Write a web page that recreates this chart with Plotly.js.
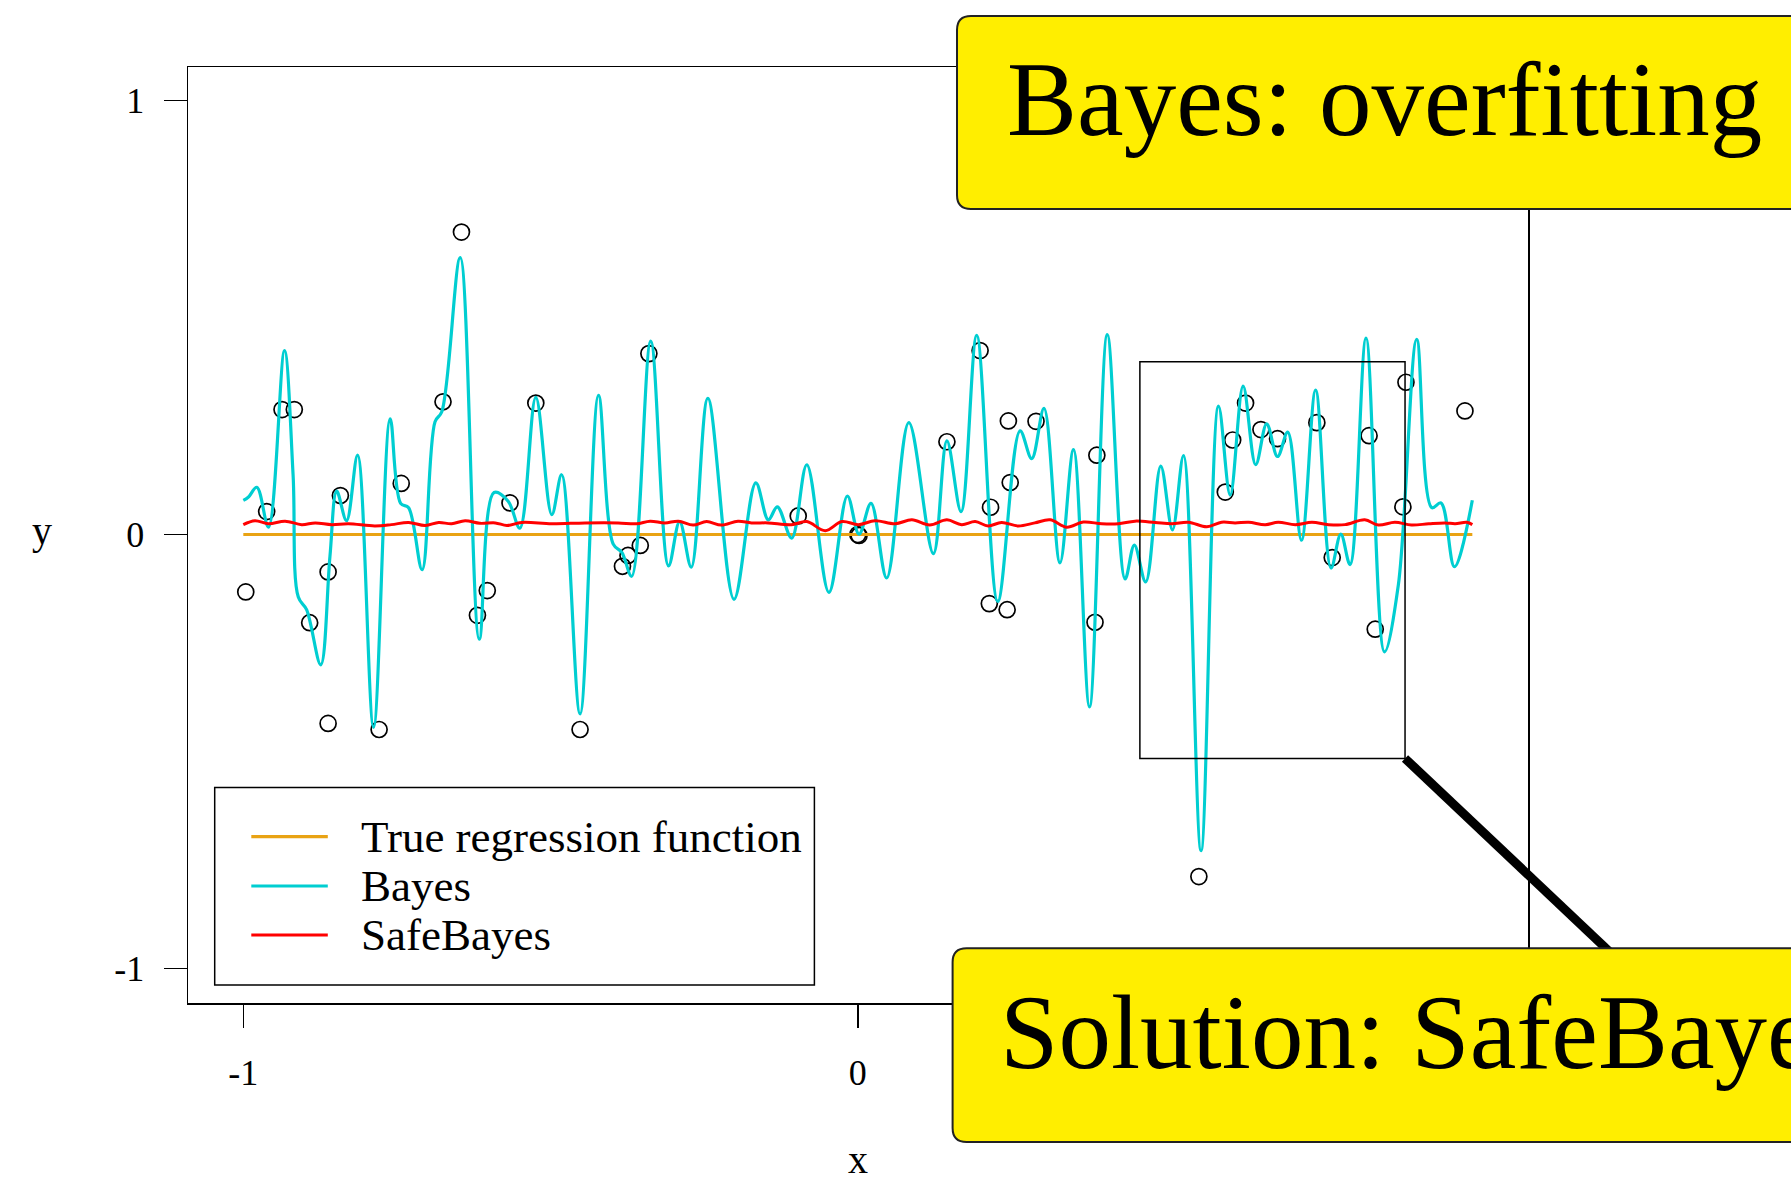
<!DOCTYPE html>
<html>
<head>
<meta charset="utf-8">
<script src="https://cdn.plot.ly/plotly-3.0.1.min.js"></script>
<style>html,body{margin:0;padding:0;background:#fff;}#chart{width:1791px;height:1182px;}</style>
</head>
<body>
<div id="chart"></div>
<script>
// ---- data ----
const pointsX = [-0.996,-0.962,-0.937,-0.917,-0.892,-0.862,-0.862,-0.842,-0.779,-0.743,-0.675,-0.645,-0.619,-0.603,-0.566,-0.524,-0.452,-0.383,-0.374,-0.354,-0.340,-0.097,0.000,0.002,0.145,0.199,0.216,0.214,0.243,0.245,0.248,0.290,0.386,0.389,0.555,0.598,0.610,0.631,0.656,0.683,0.747,0.772,0.832,0.842,0.887,0.892,0.988];
const pointsY = [-0.132,0.053,0.288,0.288,-0.203,-0.086,-0.435,0.090,-0.449,0.118,0.306,0.697,-0.186,-0.129,0.073,0.303,-0.449,-0.073,-0.048,-0.025,0.417,0.043,0.000,-0.002,0.214,0.424,0.063,-0.159,-0.173,0.262,0.120,0.261,-0.202,0.183,-0.788,0.098,0.218,0.303,0.242,0.221,0.258,-0.053,0.228,-0.218,0.064,0.351,0.285];

const trueX = [-1, 1];
const trueY = [0, 0];

const bayesX = [-1.000,-0.992,-0.978,-0.959,-0.933,-0.919,-0.9105,-0.897,-0.874,-0.859,
  -0.848,-0.832,-0.814,-0.788,-0.761,-0.744,-0.731,-0.709,-0.688,-0.677,
  -0.647,-0.616,-0.592,-0.569,-0.550,-0.524,-0.498,-0.482,-0.452,-0.422,
  -0.398,-0.384,-0.368,-0.337,-0.308,-0.290,-0.271,-0.244,-0.2015,-0.166,
  -0.1456,-0.131,-0.1076,-0.083,-0.047,-0.017,0.002,0.0215,0.047,0.083,
  0.123,0.145,0.168,0.1935,0.2277,0.264,0.283,0.303,0.329,0.351,
  0.377,0.406,0.435,0.450,0.4685,0.493,0.512,0.530,0.5585,0.587,
  0.606,0.627,0.6475,0.6654,0.683,0.6996,0.722,0.745,0.770,0.786,
  0.801,0.827,0.857,0.8796,0.9095,0.934,0.949,0.971,1.000];
const bayesY = [0.079,0.086,0.109,0.017,0.424,0.138,-0.144,-0.173,-0.300,-0.050,
  0.100,0.032,0.183,-0.444,0.267,0.072,0.062,-0.081,0.260,0.283,
  0.638,-0.241,0.097,0.077,0.015,0.316,0.046,0.138,-0.413,0.321,
  -0.022,-0.041,-0.096,0.446,-0.072,0.030,-0.075,0.314,-0.149,0.119,
  0.034,0.064,-0.008,0.161,-0.133,0.089,0.001,0.072,-0.100,0.258,
  -0.044,0.216,0.053,0.459,-0.154,0.239,0.175,0.291,-0.065,0.196,
  -0.397,0.461,-0.102,-0.024,-0.109,0.158,0.011,0.182,-0.728,0.296,
  0.091,0.342,0.161,0.255,0.180,0.236,-0.013,0.333,-0.077,0.001,
  -0.069,0.4525,-0.270,-0.116,0.450,0.062,0.073,-0.074,0.079];

const safeX = [-1.000,-0.981,-0.959,-0.932,-0.905,-0.883,-0.856,-0.829,-0.786,-0.759,-0.731,-0.704,-0.682,-0.661,-0.639,-0.615,
  -0.590,-0.571,-0.547,-0.498,-0.444,-0.390,-0.360,-0.338,-0.314,-0.292,-0.268,-0.246,-0.222,-0.195,
  -0.173,-0.146,-0.108,-0.083,-0.053,-0.026,0.001,0.028,0.061,0.088,0.117,0.145,0.169,0.191,0.212,
  0.234,0.261,0.288,0.313,0.340,0.367,0.397,0.424,0.451,0.484,0.511,0.538,0.568,0.592,
  0.614,0.636,0.663,0.684,0.712,0.739,0.766,0.793,0.825,0.847,0.874,0.901,0.929,0.956,0.972,0.991,1.000];
const safeY = [0.023,0.032,0.025,0.031,0.023,0.027,0.023,0.025,0.020,0.023,0.028,0.021,0.028,0.025,0.032,0.026,
  0.027,0.021,0.028,0.025,0.027,0.027,0.025,0.031,0.027,0.031,0.022,0.030,0.022,0.031,
  0.027,0.027,0.023,0.030,0.009,0.030,0.023,0.032,0.025,0.034,0.022,0.034,0.023,0.030,0.020,
  0.028,0.020,0.027,0.034,0.017,0.029,0.025,0.025,0.031,0.028,0.025,0.0285,0.018,0.0285,
  0.027,0.0285,0.023,0.0285,0.023,0.0285,0.023,0.023,0.034,0.022,0.0285,0.022,0.025,0.027,0.025,0.0285,0.023];

const xTickVals = [-1, 0, 1];
const xTickText = ['-1', '0', ''];   // the "1" label lies hidden under the lower callout in the reference
const yTickVals = [-1, 0, 1];
const yTickText = ['-1', '0', '1'];
const legendLabels = ['True regression function', 'Bayes', 'SafeBayes'];
const calloutTop = 'Bayes: overfitting';
const calloutBottom = 'Solution: SafeBayes';
const zoomBox = {x0: 0.459, x1: 0.8905, y0: -0.516, y1: 0.398};

// ---- styling / layout ----
const W = 1791, Hh = 1182;
const mL = 188, mR = 263, mT = 67, mB = 179;
const PW = W - mL - mR, PH = Hh - mT - mB;
const px = v => (v - mL) / PW;
const py = v => (Hh - mB - v) / PH;

const colTrue = '#E9A314', colBayes = '#00CED1', colSafe = '#FF0000';
const serif = 'Liberation Serif, Times New Roman, serif';

const traces = [
  {x: pointsX, y: pointsY, type: 'scatter', mode: 'markers', showlegend: false,
   marker: {symbol: 'circle-open', size: 16, color: '#000', line: {width: 1.7, color: '#000'}}},
  {x: trueX, y: trueY, type: 'scatter', mode: 'lines', showlegend: false,
   line: {color: colTrue, width: 3}},
  {x: bayesX, y: bayesY, type: 'scatter', mode: 'lines', showlegend: false,
   line: {color: colBayes, width: 3.2, shape: 'spline', smoothing: 1}},
  {x: safeX, y: safeY, type: 'scatter', mode: 'lines', showlegend: false,
   line: {color: colSafe, width: 3, shape: 'spline', smoothing: 1}}
];

function roundedOpenBox(x0, y0, y1, r) {
  // left part of a rounded box, running off the right edge of the page
  const xr = 2000;
  const rx = r / PW, ry = r / PH;
  const X0 = px(x0), XR = px(xr), Y0 = py(y0), Y1 = py(y1);
  return `M${XR},${Y0} L${X0 + rx},${Y0} Q${X0},${Y0} ${X0},${Y0 - ry} L${X0},${Y1 + ry} Q${X0},${Y1} ${X0 + rx},${Y1} L${XR},${Y1} Z`;
}

const shapes = [
  {type: 'rect', xref: 'x', yref: 'y', x0: zoomBox.x0, x1: zoomBox.x1, y0: zoomBox.y0, y1: zoomBox.y1,
   line: {color: '#000', width: 1.5}, fillcolor: 'rgba(0,0,0,0)', layer: 'above'},
  {type: 'line', xref: 'paper', yref: 'paper', x0: px(1405), y0: py(758.4), x1: px(1650), y1: py(990),
   line: {color: '#000', width: 9}, layer: 'above'},
  {type: 'path', xref: 'paper', yref: 'paper', path: roundedOpenBox(957, 16, 209, 14),
   fillcolor: '#FFEE00', line: {color: '#222', width: 2}, layer: 'above'},
  {type: 'path', xref: 'paper', yref: 'paper', path: roundedOpenBox(952.6, 948.3, 1142, 14),
   fillcolor: '#FFEE00', line: {color: '#222', width: 2}, layer: 'above'},
  {type: 'rect', xref: 'paper', yref: 'paper', x0: px(214.7), x1: px(814.4), y0: py(985), y1: py(787.5),
   line: {color: '#000', width: 1.5}, fillcolor: '#fff', layer: 'above'}
];
const legendCols = [colTrue, colBayes, colSafe];
const legendYs = [836.7, 886, 935];
legendYs.forEach((yy, i) => {
  shapes.push({type: 'line', xref: 'paper', yref: 'paper', x0: px(251.3), x1: px(327.8), y0: py(yy), y1: py(yy),
    line: {color: legendCols[i], width: 3.2}, layer: 'above'});
});

const annotations = [
  {text: calloutTop, xref: 'paper', yref: 'paper', x: px(1005), y: py(99.7), xanchor: 'left', yanchor: 'middle',
   showarrow: false, font: {family: serif, size: 105, color: '#000'}},
  {text: calloutBottom, xref: 'paper', yref: 'paper', x: px(998), y: py(1032.9), xanchor: 'left', yanchor: 'middle',
   showarrow: false, font: {family: serif, size: 105, color: '#000'}},
  {text: 'x', xref: 'paper', yref: 'paper', x: px(857.8), y: py(1159.5), xanchor: 'center', yanchor: 'middle',
   showarrow: false, font: {family: serif, size: 40, color: '#000'}},
  {text: 'y', xref: 'paper', yref: 'paper', x: px(42.3), y: py(530), xanchor: 'center', yanchor: 'middle',
   showarrow: false, font: {family: serif, size: 40, color: '#000'}}
];
legendLabels.forEach((t, i) => {
  annotations.push({text: t, xref: 'paper', yref: 'paper', x: px(359), y: py(legendYs[i]), xanchor: 'left', yanchor: 'middle',
    showarrow: false, font: {family: serif, size: 45, color: '#000'}});
});

const axisCommon = {
  showline: true, mirror: true, linecolor: '#000', linewidth: 1.5,
  ticks: 'outside', ticklen: 23, tickwidth: 1.5, tickcolor: '#000',
  showgrid: false, zeroline: false, tickmode: 'array',
  tickfont: {family: serif, size: 36, color: '#000'}
};

const layout = {
  width: W, height: Hh,
  margin: {l: mL, r: mR, t: mT, b: mB, pad: 0},
  paper_bgcolor: '#fff', plot_bgcolor: '#fff',
  showlegend: false,
  xaxis: Object.assign({}, axisCommon, {range: [-1.09, 1.0906], tickvals: xTickVals, ticktext: xTickText, ticklabelstandoff: 14}),
  yaxis: Object.assign({}, axisCommon, {range: [-1.0792, 1.0774], tickvals: yTickVals, ticktext: yTickText, ticklabelstandoff: 12}),
  shapes: shapes,
  annotations: annotations
};

Plotly.newPlot('chart', traces, layout, {displayModeBar: false, staticPlot: true});
</script>
</body>
</html>
